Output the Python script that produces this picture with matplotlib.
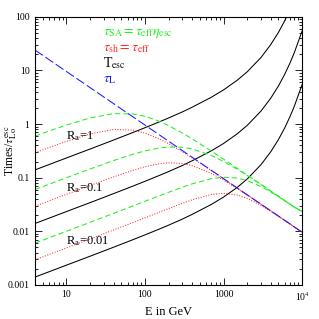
import matplotlib
matplotlib.use("Agg")
import matplotlib.pyplot as plt

plt.rcParams['font.family'] = ['Liberation Serif', 'DejaVu Serif']
plt.rcParams['mathtext.fontset'] = 'stix'

# energies in GeV
E = [4, 7, 10, 20, 40, 70, 100, 150, 200, 300, 400, 700, 1000, 1500,
     2000, 3000, 4000, 5000, 6000, 7000, 8000, 10000]

# escape time, R_a = 1, 0.1, 0.01
t_esc_1 = [0.140, 0.191, 0.233, 0.342, 0.505, 0.695, 0.855, 1.09, 1.30, 1.69,
           2.07, 3.17, 4.34, 6.61, 9.44, 17.5, 30.6, 51.4, 84.5, 137, 219, 547]
t_esc_01 = [0.0140, 0.0191, 0.0233, 0.0342, 0.0505, 0.0695, 0.0855, 0.109, 0.130,
            0.169, 0.207, 0.317, 0.434, 0.661, 0.944, 1.75, 3.06, 5.14, 8.45,
            13.7, 21.9, 54.7]
t_esc_001 = [0.00140, 0.00191, 0.00233, 0.00342, 0.00505, 0.00695, 0.00855,
             0.0109, 0.0130, 0.0169, 0.0207, 0.0317, 0.0434, 0.0661, 0.0944,
             0.175, 0.306, 0.514, 0.845, 1.37, 2.19, 5.47]

# tau_sh = tau_eff
t_sh_1 = [0.292, 0.395, 0.476, 0.655, 0.796, 0.773, 0.680, 0.534, 0.430, 0.304,
          0.233, 0.136, 0.0956, 0.0638, 0.0479, 0.0320, 0.0240, 0.0192, 0.0160,
          0.0137, 0.0120, 0.0096]
t_sh_01 = [0.0294, 0.0401, 0.0488, 0.0713, 0.1036, 0.137, 0.160, 0.181, 0.190,
           0.184, 0.168, 0.120, 0.0901, 0.0624, 0.0474, 0.0319, 0.0240, 0.0192,
           0.0160, 0.0137, 0.0120, 0.0096]
t_sh_001 = [0.00294, 0.00401, 0.00489, 0.00717, 0.0106, 0.0145, 0.0178, 0.0225,
            0.0265, 0.0333, 0.0387, 0.0486, 0.0512, 0.0474, 0.0411, 0.0304,
            0.0235, 0.0190, 0.0159, 0.0137, 0.0120, 0.0096]

# tau_SA = tau_eff * eta_esc
t_sa_1 = [0.596, 0.801, 0.959, 1.30, 1.57, 1.55, 1.40, 1.14, 0.937, 0.680,
          0.529, 0.314, 0.222, 0.149, 0.112, 0.0749, 0.0563, 0.0450, 0.0375,
          0.0321, 0.0281, 0.0235]
t_sa_01 = [0.0601, 0.0819, 0.0998, 0.145, 0.209, 0.273, 0.316, 0.357, 0.374,
           0.370, 0.344, 0.260, 0.201, 0.143, 0.110, 0.0743, 0.0560, 0.0449,
           0.0375, 0.0321, 0.0281, 0.0235]
t_sa_001 = [0.00602, 0.00821, 0.0100, 0.0147, 0.0216, 0.0296, 0.0362, 0.0455,
            0.0534, 0.0664, 0.0767, 0.0956, 0.102, 0.0982, 0.0881, 0.0682,
            0.0539, 0.0441, 0.0371, 0.0319, 0.0280, 0.0235]

# Larmor time
E_L = [4, 10000]
t_L = [24, 0.0096]

fig = plt.figure(figsize=(3.19, 3.19), dpi=100)
ax = fig.add_axes([0.11, 0.107, 0.837, 0.84])

lw = 0.75
green = '#22ee22'
red = '#ff2a2a'
for y in (t_esc_1, t_esc_01, t_esc_001):
    ax.plot(E, y, color='black', lw=lw)
for y in (t_sh_1, t_sh_01, t_sh_001):
    ax.plot(E, y, color=red, lw=lw, ls=(0, (1, 1.5)))
for y in (t_sa_1, t_sa_01, t_sa_001):
    ax.plot(E, y, color=green, lw=lw, ls=(0, (5, 3)))
ax.plot(E_L, t_L, color='#1a1aff', lw=lw, ls=(0, (9, 3)))

ax.set_xscale('log')
ax.set_yscale('log')
ax.set_xlim(4, 1e4)
ax.set_ylim(1e-3, 100)

ax.set_xticks([10, 100, 1000, 1e4])
ax.set_xticklabels(['10', '100', '1000', r'10$^4$'])
ax.set_yticks([1e-3, 1e-2, 0.1, 1, 10, 100])
ax.set_yticklabels(['0.001', '0.01', '0.1', '1', '10', '100'])
ax.tick_params(which='both', direction='in', top=True, right=True,
               labelsize=7, width=0.6)
ax.tick_params(which='major', length=5, pad=4)
ax.tick_params(which='minor', length=2.5)
for s in ax.spines.values():
    s.set_linewidth(0.8)

ax.set_xlabel('E in GeV', fontsize=9, labelpad=2)
ax.set_ylabel(r'Times/$\tau^{\rm esc}_{\rm L\,o}$', fontsize=8.5)
ax.yaxis.set_label_coords(-0.06, 0.5)

tf = ax.transAxes
fs = 10
ax.text(0.255, 0.938, r'$\tau_{\rm SA}=\tau_{\rm eff}\eta_{\rm esc}$', color=green,
        transform=tf, fontsize=fs, va='center')
ax.text(0.255, 0.882, r'$\tau_{\rm sh}=\tau_{\rm eff}$', color=red,
        transform=tf, fontsize=fs, va='center')
ax.text(0.255, 0.826, r'T$_{\rm esc}$', color='black',
        transform=tf, fontsize=fs, va='center')
ax.text(0.255, 0.765, r'$\tau_{\rm L}$', color='#1a1aff',
        transform=tf, fontsize=fs, va='center')

ax.text(0.115, 0.555, r'R$_{\rm a}$=1', transform=tf, fontsize=9, va='center')
ax.text(0.115, 0.360, r'R$_{\rm a}$=0.1', transform=tf, fontsize=9, va='center')
ax.text(0.115, 0.165, r'R$_{\rm a}$=0.01', transform=tf, fontsize=9, va='center')

fig.savefig('out.png', dpi=100)
